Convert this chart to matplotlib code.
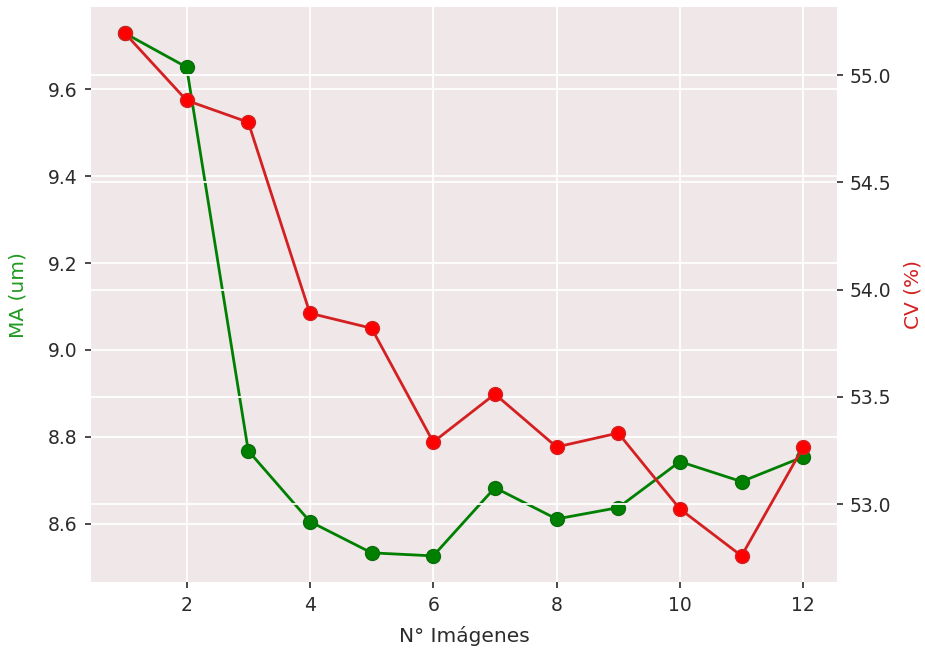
import matplotlib
matplotlib.use("Agg")
import matplotlib.pyplot as plt

n_imagenes = [1, 2, 3, 4, 5, 6, 7, 8, 9, 10, 11, 12]
ma_um = [9.729, 9.651, 8.768, 8.605, 8.533, 8.526, 8.683, 8.611, 8.637, 8.743, 8.697, 8.754]
cv_pct = [55.196, 54.883, 54.781, 53.890, 53.820, 53.289, 53.513, 53.266, 53.331, 52.977, 52.758, 53.266]

plt.rcParams['font.family'] = ['DejaVu Sans']
bg = '#F0E7E9'
tick_col = '#2b2b2b'
fs_tick = 13.5
fs_lab = 14.5

fig = plt.figure(figsize=(9.25, 6.5), dpi=100)
ax = fig.add_axes([0.0984, 0.1046, 0.8066, 0.8844])
ax.set_facecolor(bg)
ax.plot(n_imagenes, ma_um, color='green', lw=2, marker='o', ms=10,
        markerfacecolor='green', markeredgecolor='#0a6e0a', zorder=3)
ax.set_xlabel('N° Imágenes', fontsize=fs_lab, color=tick_col, labelpad=8)
ax.set_ylabel('MA (um)', fontsize=fs_lab, color='#1f9a1f', labelpad=14)
ax.set_xticks([2, 4, 6, 8, 10, 12])
ax.set_yticks([8.6, 8.8, 9.0, 9.2, 9.4, 9.6])
ax.set_yticklabels(['8.6', '8.8', '9.0', '9.2', '9.4', '9.6'])
ax.grid(True, color='white', lw=1.3)
ax.set_axisbelow(True)
for s in ax.spines.values():
    s.set_visible(False)
ax.tick_params(labelsize=fs_tick, colors=tick_col, length=4, width=1.2, pad=6)

ax2 = ax.twinx()
ax2.patch.set_visible(False)
ax2.plot(n_imagenes, cv_pct, color='#d42020', lw=2, marker='o', ms=10,
         markerfacecolor='red', markeredgecolor='#d42020', zorder=3)
ax2.set_ylabel('CV (%)', fontsize=fs_lab, color='#d42020', labelpad=9)
ax2.set_yticks([53.0, 53.5, 54.0, 54.5, 55.0])
ax2.set_yticklabels(['53.0', '53.5', '54.0', '54.5', '55.0'])
ax2.grid(True, color='white', lw=1.3)
ax2.set_axisbelow(True)
for s in ax2.spines.values():
    s.set_visible(False)
ax2.tick_params(labelsize=fs_tick, colors=tick_col, length=4, width=1.2, pad=5)

fig.savefig('out.png', dpi=100, facecolor='white')
